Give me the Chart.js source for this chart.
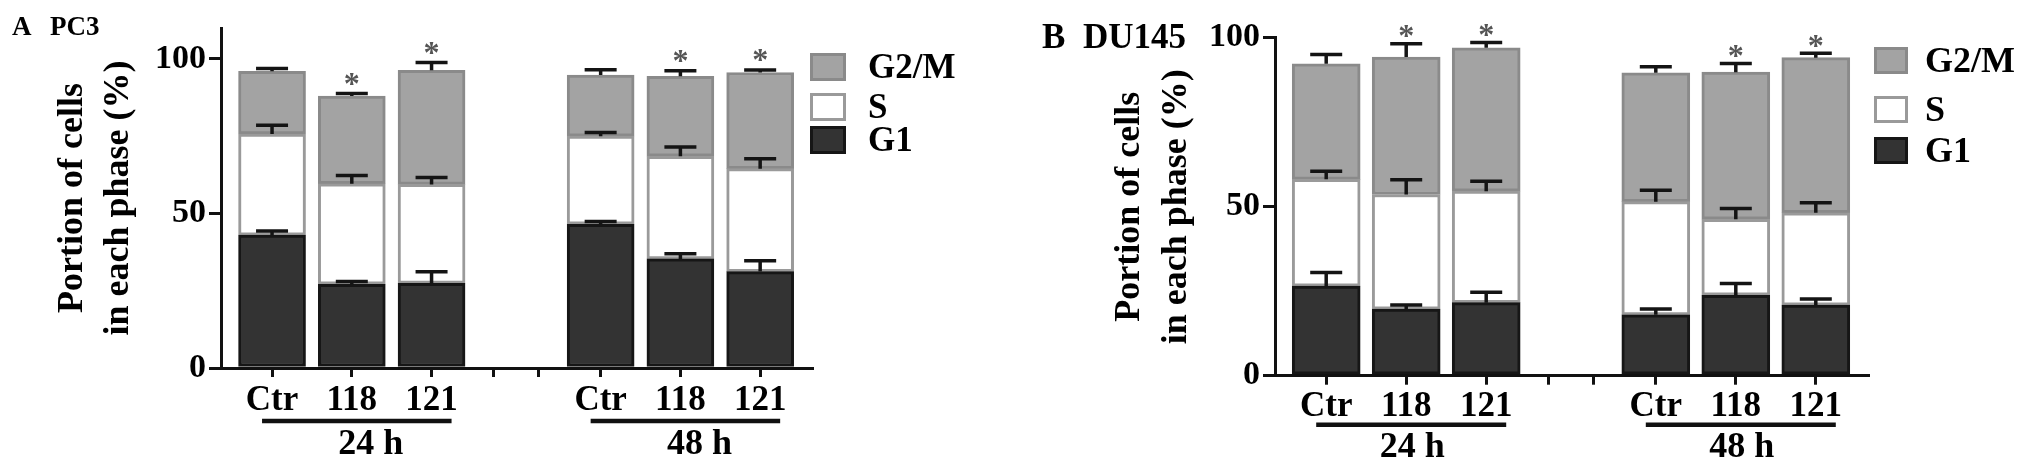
<!DOCTYPE html>
<html><head><meta charset="utf-8">
<script src="https://cdn.jsdelivr.net/npm/chart.js@4"></script>
<style>
html,body{margin:0;padding:0;background:#fff;}
#wrap{position:relative;width:2031px;height:470px;overflow:hidden;}
canvas{position:absolute;top:0;}
</style></head><body>
<div id="wrap">
<canvas id="ca" width="1015" height="470" style="left:0;width:1015px;height:470px"></canvas>
<canvas id="cb" width="1016" height="470" style="left:1015px;width:1016px;height:470px"></canvas>
</div>
<script>
// ---------------- data ----------------
const categories = ['Ctr', '118', '121', 'Ctr', '118', '121'];
const groupLabels = ['24 h', '48 h'];
const groupMembers = [[0, 1, 2], [3, 4, 5]];
const seriesNames = ['G1', 'S', 'G2/M'];
const yTickValues = [0, 50, 100];

// PC3 (panel A)
const pc3G1 = [43.0, 27.1, 27.4, 46.5, 35.3, 31.2];
const pc3G1Err = [1.3, 0.9, 3.7, 0.9, 1.7, 3.5];
const pc3S = [32.7, 32.5, 32.0, 28.5, 33.2, 33.3];
const pc3SErr = [2.8, 2.7, 2.2, 1.2, 3.0, 3.2];
const pc3G2M = [20.3, 28.4, 36.9, 19.8, 25.9, 31.1];
const pc3G2MErr = [0.9, 0.8, 2.5, 1.7, 1.8, 0.8];
const pc3Sig = [false, true, true, false, true, true];

// DU145 (panel B)
const du145G1 = [26.5, 19.7, 21.6, 18.0, 23.8, 20.9];
const du145G1Err = [4.0, 1.2, 3.1, 1.7, 3.5, 1.8];
const du145S = [31.6, 33.9, 33.0, 33.5, 22.5, 27.3];
const du145SErr = [2.4, 4.4, 2.9, 3.4, 3.2, 3.0];
const du145G2M = [34.2, 40.7, 42.4, 38.1, 43.5, 45.9];
const du145G2MErr = [2.7, 3.9, 1.6, 1.8, 2.6, 1.3];
const du145Sig = [false, true, true, false, true, true];

// ---------------- layout / style ----------------
const SERIF = '"Liberation Serif", "DejaVu Serif", serif';
const seriesStyle = [
  {bg: '#333333', border: '#161616'},
  {bg: '#ffffff', border: '#9a9a9a'},
  {bg: '#a3a3a3', border: '#8a8a8a'}
];
const groupGapExtra = 1.12;           // extra slot width between the two time groups
const slots = categories.map((c, i) => i + (i >= 3 ? groupGapExtra : 0));
const gapTicks = [2.78, 3.34];

function makeExtras(P) {
  return {
    id: 'extras',
    afterDatasetsDraw(chart) {
      const ctx = chart.ctx, xs = chart.scales.x, ys = chart.scales.y;
      ctx.save();
      for (let j = 0; j < categories.length; j++) {
        let cum = 0, lastCap = 0;
        const x = xs.getPixelForValue(slots[j]);
        P.series.forEach(s => {
          cum += s.values[j];
          const yTop = ys.getPixelForValue(cum);
          const yCap = ys.getPixelForValue(cum + s.errors[j]);
          lastCap = yCap;
          ctx.strokeStyle = '#141414';
          ctx.lineWidth = 3.5;
          ctx.beginPath();
          ctx.moveTo(x, yTop); ctx.lineTo(x, yCap);
          ctx.moveTo(x - 16, yCap); ctx.lineTo(x + 16, yCap);
          ctx.stroke();
        });
        if (P.sig[j]) {
          ctx.fillStyle = '#555555';
          ctx.font = 'bold 32px ' + SERIF;
          ctx.textAlign = 'center';
          ctx.textBaseline = 'middle';
          ctx.fillText('*', x, lastCap - P.starGap);
        }
      }
      ctx.restore();
    },
    afterDraw(chart) {
      const ctx = chart.ctx, xs = chart.scales.x, area = chart.chartArea;
      ctx.save();
      // group underline + labels
      groupMembers.forEach((m, g) => {
        const x0 = xs.getPixelForValue(slots[m[0]]);
        const x1 = xs.getPixelForValue(slots[m[m.length - 1]]);
        ctx.strokeStyle = '#111';
        ctx.lineWidth = 4.5;
        ctx.beginPath();
        ctx.moveTo(x0 - 10, area.bottom + P.groupLineDy);
        ctx.lineTo(x1 + 20, area.bottom + P.groupLineDy);
        ctx.stroke();
        ctx.fillStyle = '#000';
        ctx.font = 'bold 36px ' + SERIF;
        ctx.textAlign = 'center';
        ctx.textBaseline = 'alphabetic';
        ctx.fillText(groupLabels[g], (x0 + x1) / 2 + P.groupTextDx, area.bottom + P.groupTextDy);
      });
      // legend (top to bottom: G2/M, S, G1)
      const order = [2, 1, 0];
      order.forEach((si, k) => {
        const y = P.legendY[k];
        ctx.fillStyle = seriesStyle[si].bg;
        ctx.fillRect(P.legendX, y, P.legendBoxW, P.legendBoxH);
        ctx.strokeStyle = seriesStyle[si].border;
        ctx.lineWidth = 3;
        ctx.strokeRect(P.legendX + 1.5, y + 1.5, P.legendBoxW - 3, P.legendBoxH - 3);
        ctx.fillStyle = '#000';
        ctx.font = 'bold ' + P.legendFont + 'px ' + SERIF;
        ctx.textAlign = 'left';
        ctx.textBaseline = 'middle';
        ctx.fillText(seriesNames[si], P.legendTextX, y + P.legendBoxH / 2 + 2);
      });
      // panel label
      ctx.fillStyle = '#000';
      ctx.font = 'bold ' + P.labelSize + 'px ' + SERIF;
      ctx.textAlign = 'left';
      ctx.textBaseline = 'alphabetic';
      P.labelParts.forEach(p => ctx.fillText(p[0], p[1], P.labelBaseline));
      ctx.restore();
    }
  };
}

function makePanel(canvasId, P) {
  const datasets = P.series.map((s, i) => ({
    label: seriesNames[i],
    data: slots.map((x, j) => ({x: x, y: s.values[j]})),
    backgroundColor: seriesStyle[i].bg,
    borderColor: seriesStyle[i].border,
    borderWidth: 3,
    borderSkipped: false,
    barThickness: P.barThickness
  }));
  return new Chart(document.getElementById(canvasId), {
    type: 'bar',
    data: {datasets},
    options: {
      responsive: false,
      animation: false,
      events: [],
      layout: {padding: {top: P.padTop, right: P.padRight, left: 0, bottom: 0}},
      plugins: {legend: {display: false}, tooltip: {enabled: false}, title: {display: false}},
      scales: {
        x: {
          type: 'linear', stacked: true, offset: false,
          min: P.xMin, max: P.xMax,
          afterBuildTicks: sc => { sc.ticks = slots.concat(gapTicks).sort((a, b) => a - b).map(v => ({value: v})); },
          afterFit: sc => { sc.height = P.xHeight; },
          ticks: {
            autoSkip: false, maxRotation: 0, minRotation: 0, padding: P.xTickPad,
            color: '#000', font: {family: SERIF, weight: 'bold', size: 35, lineHeight: 1.2},
            callback: v => { const i = slots.indexOf(v); return i >= 0 ? categories[i] : ''; }
          },
          grid: {display: true, drawOnChartArea: false, offset: false, tickLength: 9, color: '#111', lineWidth: 3},
          border: {display: true, color: '#111', width: 3}
        },
        y: {
          type: 'linear', stacked: true, min: 0, max: P.yMax,
          afterBuildTicks: sc => { sc.ticks = yTickValues.filter(v => v <= P.yMax).map(v => ({value: v})); },
          afterFit: sc => { sc.width = P.yWidth; },
          ticks: {padding: 3, color: '#000', font: {family: SERIF, weight: 'bold', size: 34, lineHeight: 1.2}},
          grid: {display: true, drawOnChartArea: false, tickLength: 12, color: '#111', lineWidth: 3},
          border: {display: true, color: '#111', width: 3},
          title: {
            display: true, text: ['Portion of cells', 'in each phase (%)'], color: '#000',
            font: {family: SERIF, weight: 'bold', size: 36, lineHeight: 1.3},
            padding: {top: P.titlePadTop, bottom: 0}
          }
        }
      }
    },
    plugins: [makeExtras(P)]
  });
}

makePanel('ca', {
  series: [
    {values: pc3G1, errors: pc3G1Err},
    {values: pc3S, errors: pc3SErr},
    {values: pc3G2M, errors: pc3G2MErr}
  ],
  sig: pc3Sig,
  padTop: 28, padRight: 203, yWidth: 221, xHeight: 102, yMax: 110,
  xMin: -0.64, xMax: 6.77, barThickness: 67, titlePadTop: 49, xTickPad: 3,
  groupLineDy: 53, groupTextDy: 86, groupTextDx: 19, starGap: 8,
  legendX: 810, legendY: [53, 93, 126], legendBoxW: 36, legendBoxH: 28, legendTextX: 868, legendFont: 35,
  labelParts: [['A', 12], ['PC3', 50]], labelBaseline: 35, labelSize: 27
});

makePanel('cb', {
  series: [
    {values: du145G1, errors: du145G1Err},
    {values: du145S, errors: du145SErr},
    {values: du145G2M, errors: du145G2MErr}
  ],
  sig: du145Sig,
  padTop: 37.7, padRight: 162.4, yWidth: 260, xHeight: 94.3, yMax: 100,
  xMin: -0.64, xMax: 6.78, barThickness: 68, titlePadTop: 91.4, xTickPad: 1,
  groupLineDy: 49, groupTextDy: 81, groupTextDx: 6, starGap: 6,
  legendX: 859, legendY: [47, 96, 137], legendBoxW: 34, legendBoxH: 27, legendTextX: 910, legendFont: 36,
  labelParts: [['B', 27], ['DU145', 68]], labelBaseline: 48, labelSize: 35
});
</script>
</body></html>
